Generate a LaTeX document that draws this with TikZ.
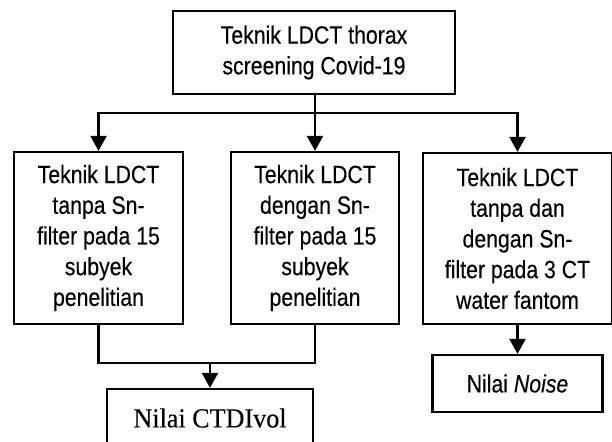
\documentclass[tikz,border=0pt]{standalone}
\usepackage{fontspec}
\setmainfont[FakeStretch=0.85,FakeBold=0.3]{Liberation Sans}
\newfontfamily\serifbox[FakeStretch=0.95,FakeBold=0.2]{Liberation Serif}
\usetikzlibrary{arrows.meta}
\begin{document}
\begin{tikzpicture}[x=1pt,y=-1pt,
  box/.style={draw, line width=2.2pt, align=center, inner sep=0pt,
    font=\fontsize{25}{30.7}\selectfont},
  link/.style={line width=2.2pt},
  arr/.style={line width=2.2pt, -{Triangle[width=16pt,length=15pt]}}]
\useasboundingbox (0,0) rectangle (612,441);
\node[box, minimum width=282pt, minimum height=83pt] (top) at (314,52.5)
  {Teknik LDCT thorax\\screening Covid-19};
\node[box, minimum width=169pt, minimum height=172pt] (left) at (98.5,238)
  {Teknik LDCT\\tanpa Sn-\\filter pada 15\\subyek\\penelitian};
\node[box, minimum width=168pt, minimum height=172pt] (mid) at (315,238)
  {Teknik LDCT\\dengan Sn-\\filter pada 15\\subyek\\penelitian};
\node[box, minimum width=189pt, minimum height=171pt] (right) at (517.5,238.5)
  {Teknik LDCT\\tanpa dan\\dengan Sn-\\filter pada 3 CT\\water fantom};
\node[box, minimum width=170pt, minimum height=57pt] (noise) at (517.5,383.5)
  {Nilai \textit{Noise}};
\node[box, minimum width=206pt, minimum height=58pt,
  font=\serifbox\fontsize{27.5}{30}\selectfont] (ctdi) at (210,418)
  {Nilai CTDIvol};
\coordinate (j) at (315,113);
\coordinate (b) at (210,363);
\draw[arr] (top.south -| mid.north) -- (mid.north);
\draw[arr] (j) -| (left.north);
\draw[arr] (j) -| (right.north);
\draw[link] (left.south) |- (b) -| (mid.south);
\draw[arr] (b) -- (ctdi.north);
\draw[arr] (right.south) -- (noise.north);
\end{tikzpicture}
\end{document}
